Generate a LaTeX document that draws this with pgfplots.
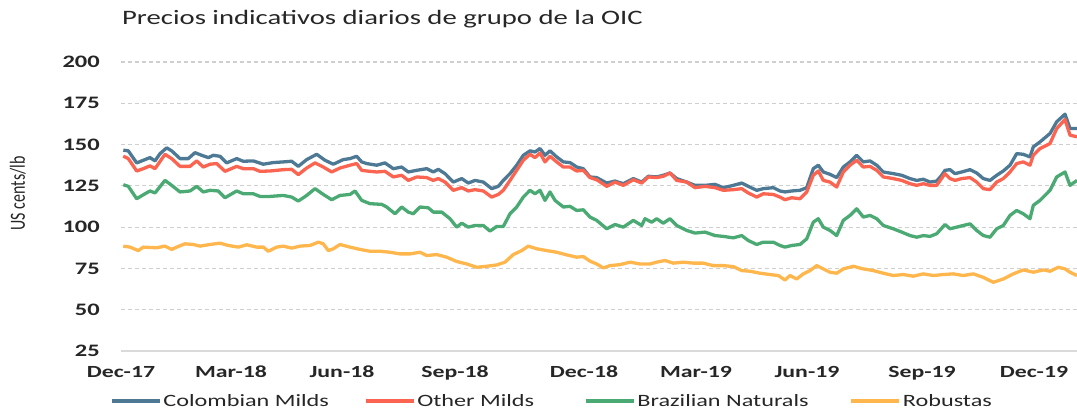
\documentclass[border=0pt]{standalone}
\usepackage{graphicx}
\usepackage{pgfplots}
\pgfplotsset{compat=1.18}
\usepackage{pgfplotstable}
\usepackage{fontspec}
\setmainfont{Carlito}[FakeStretch=1.4]
\newfontfamily\plainfont{Carlito}
\definecolor{colm}{HTML}{4E7994}
\definecolor{othm}{HTML}{FA6450}
\definecolor{braz}{HTML}{4BAA73}
\definecolor{robu}{HTML}{FFB74D}
\definecolor{gridc}{HTML}{CFCFCF}
\definecolor{axisc}{HTML}{DADADA}
\definecolor{txt}{HTML}{262626}

% x = horizontal position along the time axis (Dec-17 = 121 ... Dec-19 = 1034)
\pgfplotstableread{
x y
123.3 146.6
128.3 146.2
136.7 138.9
143.3 140.5
150.0 142.1
155.0 140.1
160.0 144.5
166.7 148.0
171.7 146.2
180.0 141.5
188.3 141.5
195.0 145.1
201.7 143.5
208.3 142.1
213.3 143.5
220.0 142.9
226.7 138.9
236.7 141.5
243.3 139.9
253.3 140.1
263.3 138.1
273.3 139.1
283.3 139.5
291.7 139.9
298.3 136.8
306.7 140.9
316.7 144.1
325.0 140.5
333.3 138.1
343.3 140.9
350.0 141.5
356.7 142.9
361.7 139.5
366.7 138.5
376.7 137.5
385.0 138.9
393.3 135.4
401.7 136.4
408.3 133.4
416.7 134.4
426.7 135.4
433.3 133.4
438.3 135.0
445.0 132.4
453.3 127.3
461.7 129.4
468.3 126.7
475.0 128.3
483.3 127.3
491.7 123.3
498.3 124.7
503.3 128.3
510.0 132.4
516.7 137.5
523.3 143.5
530.0 146.2
535.0 145.5
540.0 147.6
545.0 143.5
550.0 146.2
556.7 142.5
563.3 139.5
570.0 139.1
576.7 136.4
583.3 135.4
590.0 130.4
596.7 130.0
606.7 126.7
615.0 127.9
623.3 126.3
633.3 129.4
641.7 127.3
648.3 130.8
656.7 130.4
663.3 131.4
670.0 132.8
676.7 129.4
686.7 127.3
695.0 125.3
705.0 125.3
715.0 125.9
723.3 123.9
733.3 125.3
741.7 126.7
748.3 124.7
756.7 122.3
763.3 123.3
773.3 123.9
780.0 121.9
785.0 121.3
791.7 121.9
800.0 122.3
806.7 123.9
813.3 135.4
818.3 137.5
823.3 133.4
830.0 132.0
836.7 130.0
843.3 136.4
850.0 139.5
856.7 143.5
863.3 139.5
870.0 140.1
876.7 137.5
883.3 133.4
893.3 132.4
901.7 131.4
910.0 129.4
916.7 128.3
923.3 129.0
930.0 127.3
936.7 127.9
941.7 131.4
945.0 134.4
950.0 134.8
955.0 132.4
961.7 133.4
970.0 134.8
976.7 132.8
983.3 129.4
990.0 128.3
996.7 131.4
1003.3 134.0
1010.0 137.5
1016.7 144.5
1023.3 144.1
1030.0 142.5
1033.3 148.6
1040.0 151.6
1050.0 156.7
1056.7 163.8
1065.0 168.4
1070.0 159.7
1077.0 159.7
}\colombian

\pgfplotstableread{
x y
123.3 143.0
128.3 141.5
136.7 134.0
143.3 135.4
150.0 137.1
155.0 135.4
165.0 144.1
171.7 141.5
180.0 136.8
190.0 136.8
196.7 140.1
203.3 136.4
210.0 138.1
216.7 138.5
225.0 133.8
236.7 136.8
243.3 135.4
253.3 135.4
260.0 133.8
270.0 134.0
283.3 134.8
291.7 135.0
298.3 131.8
306.7 135.8
315.0 138.9
323.3 136.4
331.7 133.4
340.0 135.8
350.0 137.5
356.7 138.5
361.7 134.4
366.7 134.0
376.7 133.4
385.0 133.8
393.3 130.4
401.7 131.4
408.3 128.3
416.7 130.4
426.7 130.0
433.3 128.3
438.3 129.4
445.0 127.3
453.3 122.3
461.7 123.9
468.3 121.9
475.0 122.7
483.3 121.9
491.7 118.2
498.3 119.8
503.3 122.3
510.0 128.3
516.7 134.4
523.3 140.5
530.0 144.1
535.0 142.1
540.0 144.9
545.0 139.5
550.0 142.9
556.7 139.5
563.3 136.4
570.0 136.4
576.7 134.0
583.3 134.4
590.0 130.0
596.7 128.7
606.7 124.7
615.0 127.3
623.3 125.3
633.3 128.7
641.7 126.7
648.3 130.4
656.7 130.0
663.3 130.8
670.0 132.8
676.7 128.3
686.7 127.3
695.0 123.9
705.0 124.7
715.0 123.9
723.3 122.3
733.3 122.7
741.7 123.3
748.3 120.7
756.7 118.2
763.3 120.2
773.3 119.8
780.0 118.2
785.0 116.6
791.7 117.8
800.0 117.2
806.7 121.3
813.3 131.4
818.3 134.0
823.3 128.3
830.0 127.3
836.7 124.3
843.3 133.4
850.0 137.5
856.7 140.5
863.3 136.4
870.0 136.8
876.7 134.4
883.3 130.4
893.3 129.4
901.7 128.3
910.0 126.3
916.7 125.3
923.3 126.3
930.0 125.3
936.7 125.3
945.0 132.4
950.0 129.4
955.0 128.3
961.7 129.4
970.0 130.0
976.7 127.3
983.3 123.3
990.0 122.7
996.7 127.3
1003.3 129.4
1010.0 133.4
1016.7 138.5
1023.3 139.5
1030.0 137.5
1033.3 143.5
1040.0 147.6
1050.0 150.6
1056.7 159.7
1065.0 165.2
1070.0 155.7
1077.0 154.7
}\othermilds

\pgfplotstableread{
x y
123.3 125.7
128.3 124.7
136.7 117.2
143.3 119.6
150.0 121.9
155.0 120.7
165.0 128.3
171.7 125.3
180.0 121.3
190.0 121.9
196.7 124.7
203.3 121.3
210.0 122.3
218.3 121.9
225.0 117.8
236.7 121.9
243.3 120.2
253.3 120.2
260.0 118.6
270.0 118.6
283.3 119.2
291.7 118.2
298.3 115.8
306.7 119.2
315.0 123.3
323.3 119.8
331.7 116.6
340.0 119.2
350.0 119.8
355.0 121.9
361.7 116.2
370.0 114.2
381.7 113.8
386.7 112.2
395.0 108.1
401.7 112.2
408.3 109.1
413.3 108.1
420.0 112.2
428.3 111.7
433.3 109.1
441.7 109.1
450.0 105.1
456.7 100.0
461.7 102.4
468.3 100.0
475.0 101.0
483.3 101.0
490.0 97.6
496.7 100.4
503.3 100.4
510.0 108.1
516.7 112.2
523.3 118.2
530.0 122.3
535.0 120.2
540.0 122.3
545.0 116.2
550.0 121.3
555.0 116.2
563.3 112.2
570.0 112.6
576.7 110.1
583.3 110.5
590.0 106.1
596.7 104.1
606.7 99.0
615.0 101.6
623.3 100.0
633.3 104.1
641.7 101.0
645.0 105.1
651.7 103.0
656.7 105.1
663.3 102.4
670.0 105.1
676.7 101.0
686.7 98.0
695.0 96.4
705.0 97.0
715.0 94.9
723.3 94.4
733.3 93.5
741.7 94.9
748.3 91.9
756.7 89.5
763.3 90.9
773.3 90.9
780.0 88.9
785.0 87.9
791.7 88.9
800.0 89.5
806.7 92.9
813.3 103.0
818.3 105.1
823.3 100.0
830.0 98.0
836.7 94.9
843.3 104.1
850.0 107.1
856.7 111.1
863.3 106.1
870.0 107.1
876.7 105.1
883.3 101.0
893.3 99.0
901.7 97.0
910.0 94.9
916.7 93.9
923.3 94.9
930.0 94.4
936.7 96.0
945.0 101.6
950.0 99.0
956.7 100.0
963.3 101.0
970.0 102.0
976.7 98.0
983.3 94.9
990.0 93.9
996.7 99.0
1003.3 101.0
1010.0 107.1
1016.7 110.1
1023.3 108.1
1030.0 105.1
1033.3 113.2
1040.0 116.2
1050.0 122.3
1056.7 130.4
1065.0 133.4
1070.0 125.3
1077.0 128.3
}\brazilian

\pgfplotstableread{
x y
123.3 88.5
130.0 87.9
138.3 85.8
143.3 87.9
156.7 87.5
165.0 88.5
171.7 86.5
176.7 87.9
185.0 89.9
193.3 89.5
200.0 88.5
210.0 89.5
220.0 90.3
228.3 88.9
238.3 87.9
246.7 89.3
256.7 87.9
263.3 87.9
268.3 85.4
276.7 87.9
283.3 88.5
291.7 87.3
300.0 88.5
310.0 88.9
318.3 90.9
323.3 89.9
328.3 85.8
333.3 86.9
340.0 89.5
350.0 87.9
360.0 86.5
370.0 85.4
380.0 85.4
390.0 84.8
400.0 83.8
410.0 83.8
420.0 84.8
426.7 82.8
436.7 83.4
446.7 81.8
456.7 79.2
466.7 77.7
476.7 75.7
486.7 76.3
496.7 77.1
505.0 78.8
513.3 83.4
521.7 85.8
528.3 88.5
536.7 86.9
546.7 85.8
556.7 84.8
566.7 83.2
576.7 81.8
583.3 82.2
590.0 79.4
596.7 77.7
603.3 75.3
610.0 76.7
620.0 77.3
630.0 78.8
640.0 77.7
650.0 77.7
656.7 78.8
665.0 79.8
673.3 78.2
683.3 78.8
693.3 78.2
703.3 78.2
713.3 76.7
723.3 76.7
733.3 76.1
741.7 73.7
750.0 73.3
760.0 72.1
770.0 71.3
778.3 70.7
785.0 68.0
790.0 70.7
796.7 68.6
803.3 71.7
810.0 73.7
816.7 76.7
823.3 74.7
830.0 72.7
836.7 72.1
843.3 74.7
853.3 76.3
863.3 74.7
873.3 73.7
883.3 72.1
893.3 70.7
903.3 71.3
913.3 70.3
923.3 71.7
933.3 70.7
943.3 71.3
953.3 71.7
963.3 70.7
973.3 71.7
983.3 69.6
993.3 66.6
1003.3 68.6
1013.3 71.7
1023.3 74.1
1033.3 72.7
1043.3 74.1
1050.0 73.3
1058.3 75.7
1065.0 74.7
1070.0 72.7
1077.0 70.7
}\robustas

\begin{document}
\begin{tikzpicture}
\begin{axis}[
  name=ax,
  scale only axis, width=956pt, height=289pt,
  xmin=121, xmax=1077, ymin=25, ymax=200,
  axis x line*=bottom, axis y line*=left,
  y axis line style={draw=none},
  x axis line style={draw=axisc, line width=2pt},
  major tick length=0pt,
  xtick={121,231,342,455,584,696,807,922,1034},
  xticklabels={Dec-17,Mar-18,Jun-18,Sep-18,Dec-18,Mar-19,Jun-19,Sep-19,Dec-19},
  ytick={25,50,75,100,125,150,175,200},
  /pgf/number format/assume math mode=true,
  xticklabel style={font=\bfseries\fontsize{17}{20}\selectfont, text=txt, anchor=north, inner sep=0pt, yshift=-15pt},
  yticklabel style={font=\bfseries\fontsize{17.5}{20}\selectfont, text=txt, anchor=east, inner sep=0pt, xshift=-21pt},
  ymajorgrids,
  grid style={draw=gridc, line width=1.2pt, dash pattern=on 4pt off 3pt},
  ylabel={\scalebox{1}[1.35]{US cents/lb}},
  ylabel style={font=\plainfont\fontsize{16}{18}\selectfont, text=txt, at={(rel axis cs:-0.1078,0.545)}, anchor=center},
  title={Precios indicativos diarios de grupo de la OIC},
  title style={font=\fontsize{20.5}{23}\selectfont, text=txt, at={(rel axis cs:0.001,1.108)}, anchor=base west, inner sep=0pt},
  legend columns=4,
  legend style={draw=none, fill=none, at={(rel axis cs:-0.0115,-0.173)}, anchor=west, inner sep=0pt,
    font=\fontsize{17.3}{20}\selectfont, text=txt,
    nodes={inner sep=2pt},
    /tikz/column 2/.style={column sep=33pt},
    /tikz/column 4/.style={column sep=48pt},
    /tikz/column 6/.style={column sep=39pt}},
  legend cell align=left,
  legend image code/.code={\draw[#1] (0pt,0pt) -- (48pt,0pt);},
  every axis plot/.append style={line width=3.3pt, line join=round, no markers},
]
\addplot[colm] table {\colombian};
\addlegendentry{Colombian Milds}
\addplot[othm] table {\othermilds};
\addlegendentry{Other Milds}
\addplot[braz] table {\brazilian};
\addlegendentry{Brazilian Naturals}
\addplot[robu] table {\robustas};
\addlegendentry{Robustas}
\end{axis}
\pgfresetboundingbox
\path[use as bounding box] ([shift={(-121pt,-58pt)}]ax.south west) rectangle ([shift={(956pt,351pt)}]ax.south west);
\end{tikzpicture}
\end{document}
